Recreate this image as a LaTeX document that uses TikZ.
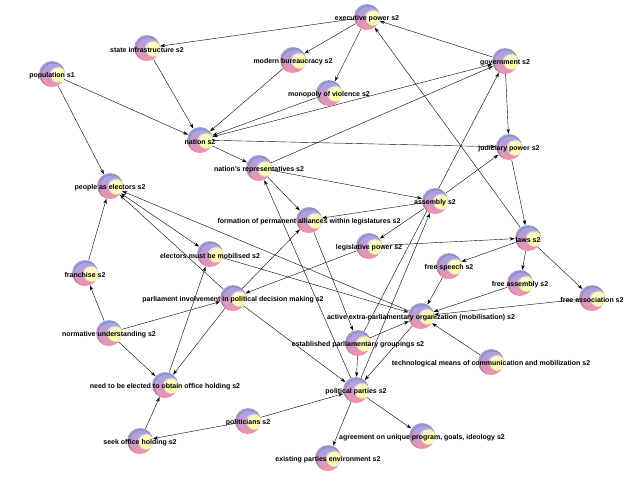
\documentclass[tikz,border=0pt]{standalone}
\usepackage{fontspec}
\newfontfamily\lblfont{Liberation Sans}
\usepackage{xcolor}
\usetikzlibrary{arrows.meta,fadings,backgrounds}

\definecolor{sphblue}{RGB}{156,164,238}
\definecolor{sphpink}{RGB}{244,146,170}
\definecolor{sphyellow}{RGB}{252,252,180}

\tikzset{
  sphere/.style={circle, minimum size=26pt, inner sep=0pt, path picture={
      \shade[top color=sphblue, bottom color=sphpink]
        (path picture bounding box.south west) rectangle (path picture bounding box.north east);
      \fill[sphyellow, path fading=circle with fuzzy edge 20 percent]
        ([xshift=6pt,yshift=-0.5pt]path picture bounding box.center) circle (8.5pt);
      \fill[white, opacity=0.3, path fading=circle with fuzzy edge 20 percent]
        ([xshift=2pt,yshift=2pt]path picture bounding box.center) circle (5pt);
      \fill[black!60, opacity=0.5, path fading=fuzzy ring 15 percent]
        ([xshift=0.8pt,yshift=-0.8pt]path picture bounding box.center) circle (13.5pt);
    }},
  lbl/.style={font=\lblfont\bfseries\fontsize{7}{8}\selectfont, inner sep=0pt, yshift=-1.5pt},
}

\begin{document}
\begin{tikzpicture}[x=1pt,y=-1pt,>={Stealth[length=5pt,width=3.4pt]},line width=0.5pt]
\useasboundingbox (0,0) rectangle (640,480);
  \node[sphere, label={[lbl]center:{executive power s2}}]   (EXE) at (367,17)   {};
  \node[sphere, label={[lbl]center:{state infrastructure s2}}]   (STI) at (147,48)   {};
  \node[sphere, label={[lbl]center:{modern bureaucracy s2}}]   (BUR) at (293,60)   {};
  \node[sphere, label={[lbl]center:{population s1}}]   (POP) at (52,74)   {};
  \node[sphere, label={[lbl]center:{government s2}}]   (GOV) at (505,61)   {};
  \node[sphere, label={[lbl]center:{monopoly of violence s2}}]   (MON) at (329,93)   {};
  \node[sphere, label={[lbl]center:{nation s2}}]   (NAT) at (200,140)   {};
  \node[sphere, label={[lbl]center:{judiciary power s2}}]   (JUD) at (509,147)   {};
  \node[sphere, label={[lbl]center:{nation's representatives s2}}]   (REP) at (259,168)   {};
  \node[sphere, label={[lbl]center:{people as electors s2}}]   (PEL) at (110,186)   {};
  \node[sphere, label={[lbl]center:{assembly s2}}]   (ASM) at (435,201)   {};
  \node[sphere, label={[lbl]center:{formation of permanent alliances within legislatures s2}}]   (FOR) at (309,220)   {};
  \node[sphere, label={[lbl]center:{laws s2}}]   (LAW) at (528,238)   {};
  \node[sphere, label={[lbl]center:{legislative power s2}}]   (LEG) at (369,246)   {};
  \node[sphere, label={[lbl]center:{electors must be mobilised s2}}]   (EMM) at (210,254)   {};
  \node[sphere, label={[lbl]center:{franchise s2}}]   (FRA) at (85,273)   {};
  \node[sphere, label={[lbl]center:{free speech s2}}]   (FSP) at (449,266)   {};
  \node[sphere, label={[lbl]center:{free assembly s2}}]   (FAS) at (520,283)   {};
  \node[sphere, label={[lbl]center:{free association s2}}]   (FAC) at (592,298)   {};
  \node[sphere, label={[lbl]center:{parliament involvement in political decision making s2}}]   (PIN) at (233,298)   {};
  \node[sphere, label={[lbl]center:{active extra-parliamentary organization (mobilisation) s2}}]   (AEO) at (421,316)   {};
  \node[sphere, label={[lbl]center:{normative understanding s2}}]   (NOR) at (109,333)   {};
  \node[sphere, label={[lbl]center:{established parliamentary groupings s2}}]   (EPG) at (358,343)   {};
  \node[sphere, label={[lbl]center:{technological means of communication and mobilization s2}}]   (TEC) at (491,362)   {};
  \node[sphere, label={[lbl]center:{need to be elected to obtain office holding s2}}]   (NEE) at (165,385)   {};
  \node[sphere, label={[lbl]center:{political parties s2}}]   (POL) at (356,390)   {};
  \node[sphere, label={[lbl]center:{politicians s2}}]   (PLT) at (248,421)   {};
  \node[sphere, label={[lbl]center:{seek office holding s2}}]   (SOH) at (140,441)   {};
  \node[sphere, label={[lbl]center:{agreement on unique program, goals, ideology s2}}]   (AGR) at (422,436)   {};
  \node[sphere, label={[lbl]center:{existing parties environment s2}}]   (EXI) at (328,458)   {};

\begin{pgfonlayer}{background}
  \path[->]
        (EXE) edge (STI)
        (EXE) edge (BUR)
        (EXE) edge (MON)
        (GOV) edge (EXE)
        (LAW) edge (EXE)
        (STI) edge (NAT)
        (BUR) edge (NAT)
        (POP) edge (NAT)
        (MON) edge (NAT)
        (NAT) edge (JUD)
        (NAT) edge (REP)
        (POP) edge (PEL)
        (REP) edge (GOV)
        (REP) edge (ASM)
        (REP) edge (FOR)
        (GOV) edge (JUD)
        (ASM) edge (JUD)
        (JUD) edge (LAW)
        (EPG) edge (GOV)
        (ASM) edge (FOR)
        (ASM) edge (LEG)
        (LEG) edge (LAW)
        (LEG) edge (PIN)
        (PIN) edge (FOR)
        (FOR) edge (EPG);

  \path[->]
        (LAW) edge (FSP)
        (LAW) edge (FAS)
        (LAW) edge (FAC)
        (FSP) edge (AEO)
        (FAS) edge (AEO)
        (FAC) edge (AEO)
        (TEC) edge (AEO)
        (EPG) edge (AEO)
        (AEO) edge (POL)
        (EPG) edge (POL)
        (POL) edge (ASM)
        (POL) edge (REP)
        (POL) edge (EXI)
        (POL) edge (AGR)
        (PLT) edge (POL)
        (PLT) edge (SOH)
        (SOH) edge (NEE)
        (NOR) edge (NEE)
        (PIN) edge (NEE)
        (NEE) edge (EMM)
        (NOR) edge (FRA)
        (FRA) edge (PEL)
        (NOR) edge (PIN)
        (AEO) edge (PEL)
        (PIN) edge (PEL)
        (EMM) edge (AEO)
        (PIN) edge (POL);

  \path[<->]
        (NAT) edge (GOV)
        (PEL) edge (EMM);
\end{pgfonlayer}
\end{tikzpicture}
\end{document}
